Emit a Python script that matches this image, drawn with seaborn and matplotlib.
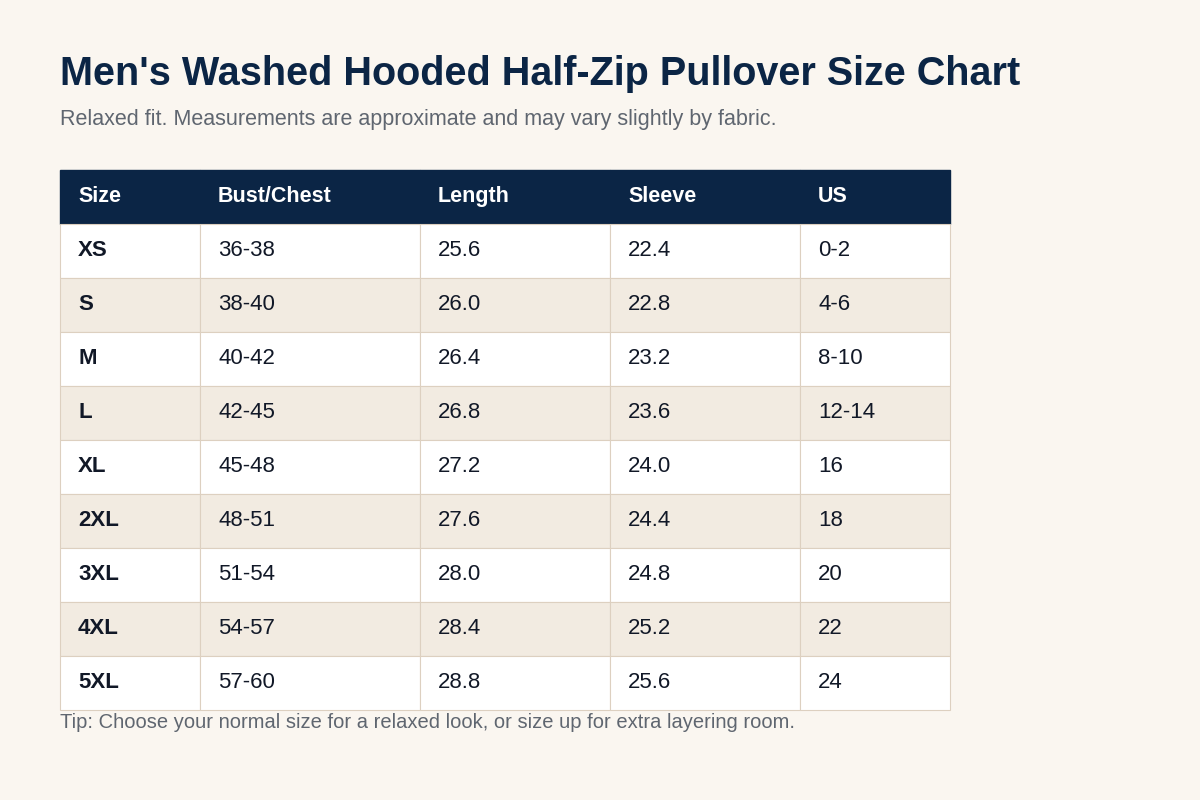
import matplotlib.pyplot as plt
import seaborn as sns
import numpy as np

sns.set_theme(style="white")
plt.rcParams['font.family'] = ['Liberation Sans', 'DejaVu Sans']

title = "Men's Washed Hooded Half-Zip Pullover Size Chart"
subtitle = "Relaxed fit. Measurements are approximate and may vary slightly by fabric."
tip = "Tip: Choose your normal size for a relaxed look, or size up for extra layering room."

columns = ["Size", "Bust/Chest", "Length", "Sleeve", "US"]
sizes = ["XS", "S", "M", "L", "XL", "2XL", "3XL", "4XL", "5XL"]
bust = ["36-38", "38-40", "40-42", "42-45", "45-48", "48-51", "51-54", "54-57", "57-60"]
length = ["25.6", "26.0", "26.4", "26.8", "27.2", "27.6", "28.0", "28.4", "28.8"]
sleeve = ["22.4", "22.8", "23.2", "23.6", "24.0", "24.4", "24.8", "25.2", "25.6"]
us = ["0-2", "4-6", "8-10", "12-14", "16", "18", "20", "22", "24"]

col_widths = np.array([140, 220, 190, 190, 150])
col_lefts = np.concatenate([[0], np.cumsum(col_widths)[:-1]])

bg = "#faf6f0"
navy = "#0b2545"
alt = "#f2ebe1"
border = "#ddd0c0"
ink = "#111827"

fig = plt.figure(figsize=(12, 8), dpi=100, facecolor=bg)
fig.text(60 / 1200, 1 - 74 / 800, title, fontsize=28.5, fontweight="bold", color=navy, va="center")
fig.text(60 / 1200, 1 - 119 / 800, subtitle, fontsize=15.5, color="#5f6670", va="center")
fig.text(60 / 1200, 1 - 722 / 800, tip, fontsize=14.5, color="#5f6670", va="center")

# table axes: 60..950 px wide, 170..710 px tall
ax = fig.add_axes([60 / 1200, 1 - 710 / 800, 890 / 1200, 540 / 800])
ax.set_xlim(0, col_widths.sum())
ax.set_ylim(len(sizes) + 0.5, -0.5)
ax.axis("off")

# header
ax.barh(0, col_widths, left=col_lefts, height=1, color=navy, edgecolor=navy, clip_on=False)
for c, name in enumerate(columns):
    ax.text(col_lefts[c] + 18, 0, name, color="white", fontsize=15.5, fontweight="bold", va="center")

rows = list(zip(sizes, bust, length, sleeve, us))
for r, row in enumerate(rows, start=1):
    fill = "white" if r % 2 == 1 else alt
    ax.barh(r, col_widths, left=col_lefts, height=1, color=fill, edgecolor=border,
            linewidth=0.8, clip_on=False)
    for c, val in enumerate(row):
        ax.text(col_lefts[c] + 18, r, val, color=ink, fontsize=16,
                fontweight="bold" if c == 0 else "normal", va="center")

fig.savefig("out.png", dpi=100, facecolor=bg)
